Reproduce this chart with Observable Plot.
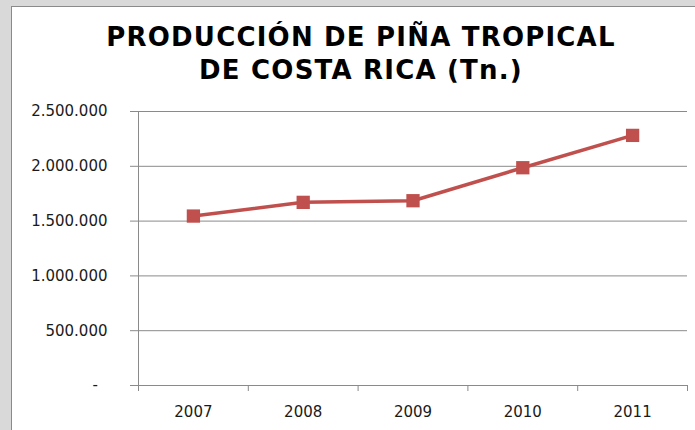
<!DOCTYPE html>
<html>
<head>
<meta charset="utf-8">
<script src="https://cdn.jsdelivr.net/npm/d3@7"></script>
<script src="https://cdn.jsdelivr.net/npm/@observablehq/plot@0.6"></script>
<style>
  html, body { margin: 0; padding: 0; }
  body { width: 695px; height: 430px; overflow: hidden; background: #d9d9d9; position: relative; }
  #box { position: absolute; left: 11px; top: 6px; width: 720px; height: 450px; background: #fff;
         border-left: 1px solid #8a8a8a; border-top: 1px solid #8a8a8a; }
  #title { position: absolute; left: 11px; top: 21px; width: 700px; text-align: center;
           font-family: "DejaVu Sans", sans-serif; font-weight: bold; font-size: 26px; line-height: 33px;
           letter-spacing: 1.2px; color: #000; }
  #chart { position: absolute; left: 0; top: 95px; }
</style>
</head>
<body>
<div id="box"></div>
<div id="title">PRODUCCIÓN DE PIÑA TROPICAL<br>DE COSTA RICA (Tn.)</div>
<div id="chart"></div>
<script>
const years = [2007, 2008, 2009, 2010, 2011];
const production = [1546000, 1671000, 1686000, 1987000, 2282000];
const yTicks = [0, 500000, 1000000, 1500000, 2000000, 2500000];
const yTickLabels = ["-", "500.000", "1.000.000", "1.500.000", "2.000.000", "2.500.000"];
const xBoundaries = [2006.5, 2007.5, 2008.5, 2009.5, 2010.5, 2011.5];

const data = years.map((year, i) => ({year, value: production[i]}));
const gridColor = "#8a8a8a";
const lineColor = "#C0504D";

const chart = Plot.plot({
  width: 695,
  height: 335,
  marginLeft: 138,
  marginRight: 8,
  marginTop: 16,
  marginBottom: 45,
  style: {fontFamily: "DejaVu Sans, sans-serif", fontSize: "15px", color: "#1a1a1a", background: "transparent"},
  x: {domain: [2006.5, 2011.5]},
  y: {domain: [0, 2500000]},
  marks: [
    Plot.ruleY(yTicks, {stroke: gridColor, strokeWidth: 1, strokeOpacity: 1}),
    Plot.axisY({ticks: yTicks, tickSize: 8, tickPadding: 23, stroke: gridColor, strokeOpacity: 1,
      tickFormat: d => { const l = yTickLabels[yTicks.indexOf(d)]; return l === "-" ? "-\u2007" : l; },
      label: null, fill: "#1a1a1a"}),
    Plot.ruleX([2006.5], {y1: 0, y2: 2500000, stroke: gridColor, strokeWidth: 1}),
    Plot.axisX({ticks: xBoundaries, tickSize: 6, stroke: gridColor, strokeOpacity: 1, tickFormat: () => "", label: null}),
    Plot.axisX({ticks: years, tickSize: 0, tickPadding: 21, tickFormat: d => String(d), label: null, fill: "#1a1a1a"}),
    Plot.line(data, {x: "year", y: "value", stroke: lineColor, strokeWidth: 3.5}),
    Plot.dot(data, {x: "year", y: "value", symbol: "square", r: 7.5, fill: lineColor, stroke: "none"})
  ]
});
document.getElementById("chart").appendChild(chart);
</script>
</body>
</html>
